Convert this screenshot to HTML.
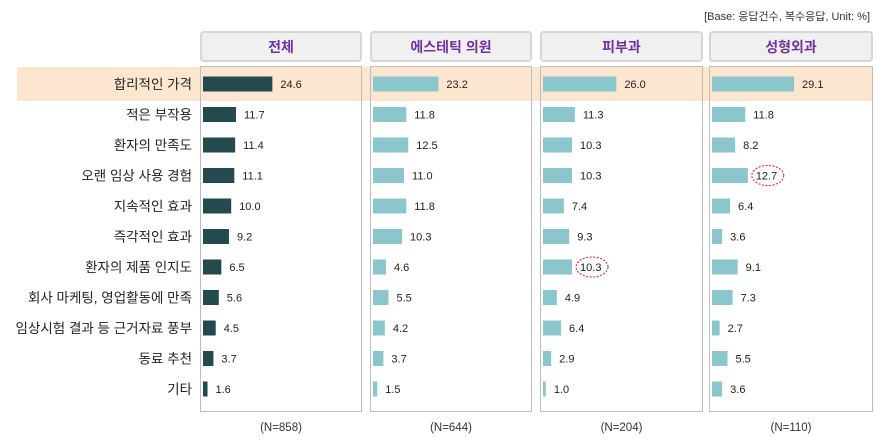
<!DOCTYPE html>
<html><head><meta charset="utf-8"><style>
body{margin:0;background:#fff;}
svg{display:block;font-family:"Liberation Sans","Noto Sans CJK KR",sans-serif;}
</style></head><body>
<svg id="chart" width="889" height="441" viewBox="0 0 889 441"></svg>
<script>
const categories=["합리적인 가격","적은 부작용","환자의 만족도","오랜 임상 사용 경험","지속적인 효과","즉각적인 효과","환자의 제품 인지도","회사 마케팅, 영업활동에 만족","임상시험 결과 등 근거자료 풍부","동료 추천","기타"];
const panelTitles=["전체","에스테틱 의원","피부과","성형외과"];
const panelNs=["(N=858)","(N=644)","(N=204)","(N=110)"];
const valsTotal=[24.6,11.7,11.4,11.1,10.0,9.2,6.5,5.6,4.5,3.7,1.6];
const valsClinic=[23.2,11.8,12.5,11.0,11.8,10.3,4.6,5.5,4.2,3.7,1.5];
const valsDerm=[26.0,11.3,10.3,10.3,7.4,9.3,10.3,4.9,6.4,2.9,1.0];
const valsPlastic=[29.1,11.8,8.2,12.7,6.4,3.6,9.1,7.3,2.7,5.5,3.6];
const series=[valsTotal,valsClinic,valsDerm,valsPlastic];
const highlights=[[2,6],[3,3]];
const NS="http://www.w3.org/2000/svg";
const svg=document.getElementById('chart');
function mk(t,a,p){const e=document.createElementNS(NS,t);for(const k in a)e.setAttribute(k,a[k]);(p||svg).appendChild(e);return e;}
const panelX=[200,370,540,709],panelW=[162,162,163,164];
const rowY=i=>84+i*30.5;
const xScale=v=>v*2.82;
let t=mk('text',{x:870,y:20,'text-anchor':'end','font-size':11,fill:'#333'});t.textContent="[Base: 응답건수, 복수응답, Unit: %]";


let band=mk('rect',{x:17,y:67,width:855,height:34,fill:'#fde6d0'});


categories.forEach((c,i)=>{const e=mk('text',{x:192,y:rowY(i)+5,'text-anchor':'end','font-size':13.5,fill:'#222'});e.textContent=c;

});
series.forEach((vals,p)=>{
 const x0=panelX[p],w=panelW[p];
 const h=mk('rect',{x:x0+1,y:32,width:w-2,height:29,rx:3,fill:'#f0f0f0',stroke:'#d6d6d6','stroke-width':2});
 
 
 const ht=mk('text',{x:x0+w/2,y:52,'text-anchor':'middle','font-size':14,'font-weight':'bold',fill:'#7030a0'});ht.textContent=panelTitles[p];
 
 
 const b=mk('rect',{x:x0+0.5,y:66.5,width:w-1,height:345,fill:'none',stroke:'#bdbdbd','stroke-width':1});
 
 
 vals.forEach((v,i)=>{
  const bw=xScale(v);
  const r=mk('rect',{x:x0+3,y:rowY(i)-7.5,width:bw,height:15,fill:p==0?'#234a4f':'#8ac6cc'});
  
  
  const lx=x0+3+bw+8;
  const l=mk('text',{x:lx,y:rowY(i)+4,'font-size':11,fill:'#222'});l.textContent=v.toFixed(1);
  
  
  if(highlights.some(hh=>hh[0]==p&&hh[1]==i)){
   const el=mk('ellipse',{cx:lx+12,cy:rowY(i),rx:16,ry:10,fill:'none',stroke:'#d02020','stroke-width':1,'stroke-dasharray':'2,1.5'});
   
   
  }
 });
 const n=mk('text',{x:x0+w/2,y:431,'text-anchor':'middle','font-size':11.5,fill:'#333'});n.textContent=panelNs[p];
 
 
});
</script>
</body></html>
